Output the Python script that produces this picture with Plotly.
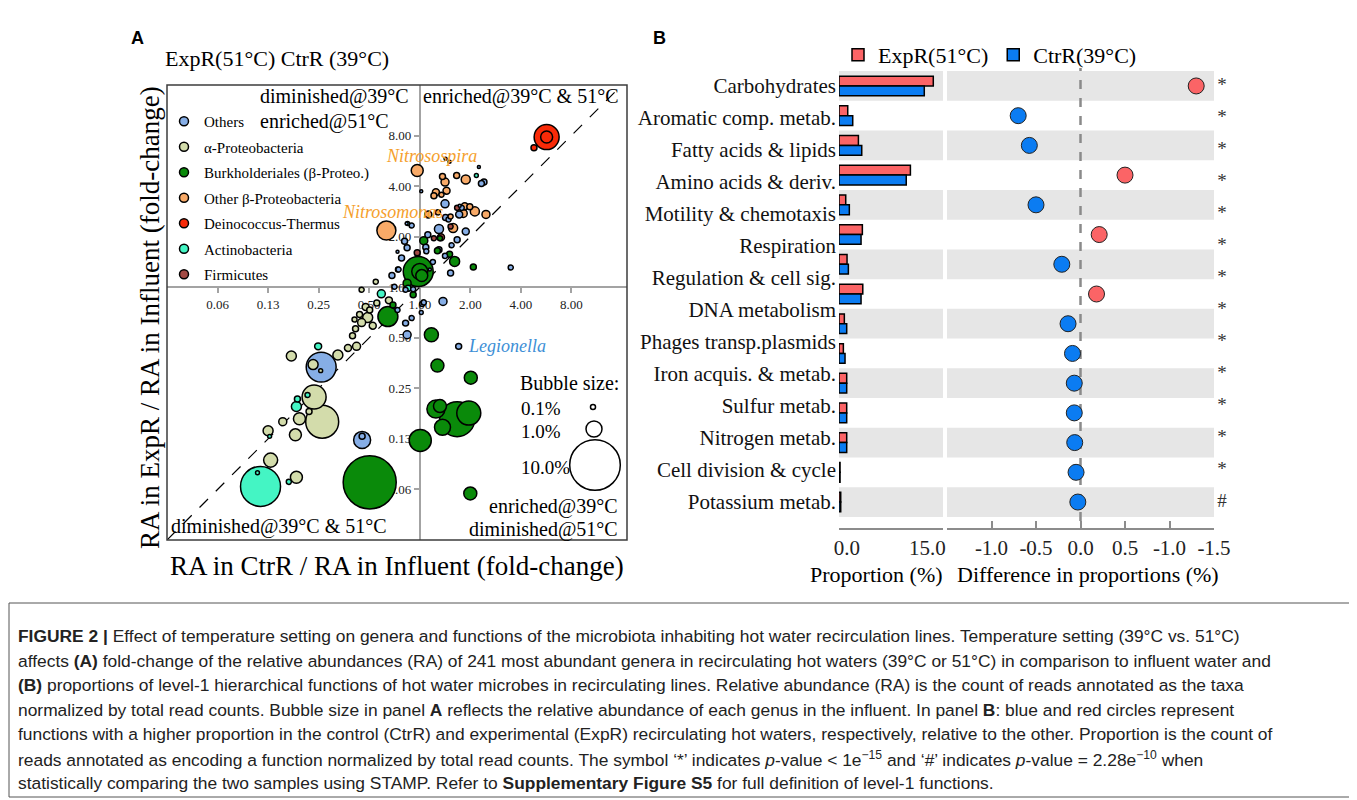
import math
import plotly.graph_objects as go

# The page adds an 8px body margin; the figure is sized to fit the 1357x800 window.
OFF = 8
W, H = 1357 - OFF, 800 - OFF
def fx(p): return (p - OFF) / W
def fy(p): return 1 - (p - OFF) / H

SERIF = "Liberation Serif, 'Times New Roman', Times, serif"
SANS = "Liberation Sans, Arial, Helvetica, sans-serif"

# ---------------- Panel A data (log2 fold-change, influent RA in %) ----------------
group_names = ["Others", "α-Proteobacteria", "Burkholderiales (β-Proteo.)",
               "Other β-Proteobacteria", "Deinococcus-Thermus", "Actinobacteria", "Firmicutes"]
group_colors = ["#86aee6", "#d3dcab", "#0a8a0a", "#f8aa68", "#f82a08", "#44f5c4", "#a34a44"]

others_ctrr = [0.50, 0.78, 0.38, 0.91, 1.27, 0.57, 0.83, 1.80, 0.74, 0.63, 0.38, 0.12, 0.61, 0.16, 0.50, 0.26, 1.22, 0.51,
               0.51, 1.17, 0.03, -0.26, 0.79, 0.59, 0.20, -0.44,
               0.46, 0.05, 0.03, -0.16, -0.28, -0.25, -0.13, -1.95, -1.14, -1.14, -0.30, -0.25, 0.13, -0.43, -0.28, 0.08,
               -0.16, -0.55, -0.36, -0.50, -0.44, -0.42]
others_expr = [1.65, 1.44, 1.15, 1.10, 2.08, 1.34, 1.57, 0.39, 0.94, 0.83, 0.74, 0.79, 0.28, 1.04, 0.62, 0.50, 2.05, 1.38,
               2.54, 2.38, 1.90, 1.26, 1.61, 2.48, 0.35, 0.70,
               -0.28, -0.33, -0.50, -0.61, -0.71, -0.94, -0.04, -1.58, -3.02, -2.95, 0.91, 0.78, 0.71, 0.35, -0.05, -0.30,
               1.22, 0.23, 0.58, 0.01, -0.45, 0.35]
others_ra = [0.25, 0.19, 0.32, 0.19, 0.14, 0.10, 0.10, 0.10, 0.14, 0.10, 0.14, 0.14, 0.14, 0.14, 0.10, 0.10, 0.14, 0.14,
             0.035, 0.035, 0.035, 0.035, 0.035, 0.035, 0.035, 0.035,
             0.25, 0.10, 0.06, 0.10, 0.14, 0.25, 0.10, 3.5, 1.13, 0.14, 0.14, 0.14, 0.10, 0.10, 0.10, 0.10,
             0.10, 0.14, 0.14, 0.10, 0.10, 0.10]

alpha_ctrr = [-1.93, -2.09, -2.38, -2.19, -2.46, -2.71, -3.00, -2.95, -2.44, -2.54, -1.62, -1.42, -1.25, -1.33,
              -2.11, -1.96, -1.15, -1.03, -0.93, -1.19, -1.07, -0.85, -0.61, -1.15, -0.87, -1.27, -0.99, -1.29]
alpha_expr = [-2.66, -2.17, -2.60, -2.46, -2.92, -2.66, -2.84, -3.42, -3.76, -1.36, -1.34, -1.20, -1.17, -0.96,
              -1.53, -1.65, -0.70, -0.60, -0.76, -0.54, -0.39, -0.31, -0.26, -0.05, 0.11, -0.82, -0.45, -0.64]
alpha_ra = [4.25, 2.25, 0.56, 0.14, 0.56, 0.25, 0.39, 0.77, 0.56, 0.39, 0.39, 0.19, 0.25, 0.14,
            0.39, 0.06, 0.25, 0.39, 0.19, 0.14, 0.19, 0.14, 0.19, 0.10, 0.10, 0.14, 0.14, 0.10]

burk_ctrr = [-0.03, 0.00, 0.04, 0.08, 0.35, 0.69, 1.06, 0.59, 0.40, -0.63, 0.23, 0.35, 1.01, 0.32, 0.40, 0.74,
             0.97, 0.45, 0.01, 1.00, -0.99, -0.25, -0.13, -0.53]
burk_expr = [0.31, 0.31, 0.23, 0.92, 0.72, 0.51, 0.40, 0.65, 0.97, -0.58, -0.94, -1.55, -1.79, -2.41, -2.35, -2.61,
             -2.49, -2.77, -3.03, -4.08, -3.86, 0.08, -0.15, -0.35]
burk_ra = [3.5, 1.0, 0.56, 0.25, 0.14, 0.39, 0.14, 0.14, 0.10, 1.56, 0.77, 0.66, 0.66, 1.27, 0.66, 4.8,
           2.25, 1.0, 1.9, 0.66, 11.0, 0.25, 0.14, 0.14]

beta_ctrr = [0.45, 0.50, 0.53, 0.32, 0.73, 0.91, 0.28, 0.17, 0.66, 0.86, 1.09, 1.31, 0.61, 0.36, 0.43, 0.99, 0.89]
beta_expr = [2.19, 2.08, 1.91, 1.88, 2.21, 2.13, 1.81, 1.44, 1.17, 1.46, 1.50, 1.44, 1.40, 1.48, 1.83, 1.59, 1.60]
beta_ra = [0.14, 0.25, 0.19, 0.19, 0.14, 0.32, 0.14, 0.19, 0.32, 0.25, 0.32, 0.25, 0.10, 0.10, 0.10, 0.14, 0.19]

deino_ctrr = [2.51, 2.51, 2.26]
deino_expr = [2.97, 2.97, 2.76]
deino_ra = [2.44, 0.56, 0.14]

actino_ctrr = [1.12, -0.24, -0.76, -0.23, -2.44, -2.42, -2.22, -2.97, -2.59, -2.01, -3.21, -3.15]
actino_expr = [2.21, 1.26, -0.13, -0.02, -2.36, -2.21, -2.13, -2.95, -3.85, -1.17, -3.67, -3.94]
actino_ra = [0.06, 0.06, 0.25, 0.14, 0.39, 0.14, 0.10, 0.06, 0.10, 0.19, 0.06, 6.25]

firm_ctrr = [0.74, 0.61, 0.42, -0.05, 0.28]
firm_expr = [1.57, 1.20, 0.99, 0.68, 0.97]
firm_ra = [0.10, 0.10, 0.19, 0.14, 0.10]

labelled_names = ["Nitrosospira", "Nitrosomonas", "Legionella"]
labelled_group = [3, 3, 0]
labelled_ctrr = [-0.05, -0.66, 0.77]
labelled_expr = [2.31, 1.12, -1.17]
labelled_ra = [0.56, 1.41, 0.14]

x_tick_log2 = [-4, -3, -2, -1, 0, 1, 2, 3]
x_tick_text = ["0.06", "0.13", "0.25", "0.50", "1.00", "2.00", "4.00", "8.00"]
y_tick_log2 = [-4, -3, -2, -1, 0, 1, 2, 3]
y_tick_text = ["0.06", "0.13", "0.25", "0.50", "1.00", "2.00", "4.00", "8.00"]

bubble_legend_pct = [0.1, 1.0, 10.0]
bubble_legend_text = ["0.1%", "1.0%", "10.0%"]

# ---------------- Panel B data ----------------
function_labels = ["Carbohydrates", "Aromatic comp. metab.", "Fatty acids & lipids", "Amino acids & deriv.",
                   "Motility & chemotaxis", "Respiration", "Regulation & cell sig.", "DNA metabolism",
                   "Phages transp.plasmids", "Iron acquis. & metab.", "Sulfur metab.", "Nitrogen metab.",
                   "Cell division & cycle", "Potassium metab."]
significance = ["*", "*", "*", "*", "*", "*", "*", "*", "*", "*", "*", "*", "*", "#"]
prop_expr = [13.6, 1.26, 2.8, 10.3, 0.97, 3.37, 1.16, 3.43, 0.77, 0.63, 1.11, 1.11, 1.11, 0.15, 0.25]
prop_ctrr = [12.3, 1.98, 3.28, 9.7, 1.49, 3.18, 1.35, 3.18, 1.11, 0.87, 1.11, 1.11, 1.11, 0.15, 0.25]
prop_diff = [1.30, -0.70, -0.575, 0.50, -0.50, 0.21, -0.21, 0.18, -0.14, -0.09, -0.07, -0.07, -0.065, -0.05, -0.03]
prop_ticks = [0, 15]
prop_tick_text = ["&nbsp;&nbsp;&nbsp;0.0", "15.0&nbsp;&nbsp;&nbsp;&nbsp;&nbsp;&nbsp;"]
diff_ticks = [-1.0, -0.5, 0.0, 0.5, 1.0, 1.5]
diff_tick_text = ["-1.0", "-0.5", "0.0", "0.5", "-1.0", "-1.5"]

RED = "#fb6466"
BLUE = "#0b7cf2"

# ---------------- Figure ----------------
fig = go.Figure()

AX_LO, Y_HI, X_HI = -5.0, 4.0, 4.1

def diam(pct):
    return 16 * math.sqrt(pct)

# diagonal y = x
fig.add_trace(go.Scatter(x=[AX_LO, Y_HI], y=[AX_LO, Y_HI], mode="lines",
                         line=dict(color="black", width=1.2, dash="12px,11px"),
                         showlegend=False, hoverinfo="skip", xaxis="x", yaxis="y"))

groups_data = [(others_ctrr, others_expr, others_ra), (alpha_ctrr, alpha_expr, alpha_ra),
               (burk_ctrr, burk_expr, burk_ra), (beta_ctrr, beta_expr, beta_ra),
               (deino_ctrr, deino_expr, deino_ra), (actino_ctrr, actino_expr, actino_ra),
               (firm_ctrr, firm_expr, firm_ra)]
pts = []
for g, (cs, es, rs) in enumerate(groups_data):
    for c, e, r in zip(cs, es, rs):
        pts.append((r, c, e, group_colors[g]))
for g, c, e, r in zip(labelled_group, labelled_ctrr, labelled_expr, labelled_ra):
    pts.append((r, c, e, group_colors[g]))
pts.sort(key=lambda t: -t[0])

fig.add_trace(go.Scatter(
    x=[p[1] for p in pts], y=[p[2] for p in pts], mode="markers",
    marker=dict(size=[diam(p[0]) for p in pts], sizemode="diameter",
                color=[p[3] for p in pts], line=dict(color="black", width=1.5), opacity=1),
    showlegend=False, hoverinfo="skip", xaxis="x", yaxis="y"))

for name, col in zip(group_names, group_colors):
    fig.add_trace(go.Scatter(x=[None], y=[None], mode="markers", name=name,
                             marker=dict(size=9, color=col, line=dict(color="black", width=1.5)),
                             legend="legend", legendgroup=name, xaxis="x", yaxis="y"))

# Panel B bars
rows = list(range(len(prop_expr)))
fig.add_trace(go.Bar(y=rows, x=prop_expr, orientation="h", name="ExpR(51°C)",
                     marker=dict(color=RED, line=dict(color="black", width=1.5)),
                     xaxis="x2", yaxis="y2", legend="legend2"))
fig.add_trace(go.Bar(y=rows, x=prop_ctrr, orientation="h", name="CtrR(39°C)",
                     marker=dict(color=BLUE, line=dict(color="black", width=1.5)),
                     xaxis="x2", yaxis="y2", legend="legend2"))

fig.add_trace(go.Scatter(x=prop_diff, y=rows, mode="markers",
                         marker=dict(size=16, color=[RED if d > 0 else BLUE for d in prop_diff],
                                     line=dict(color="#222", width=1)),
                         showlegend=False, xaxis="x3", yaxis="y2"))

fig.add_trace(go.Scatter(x=[0.5] * len(function_labels), y=function_labels, mode="text",
                         text=significance, textfont=dict(family=SERIF, size=19, color="#333"),
                         showlegend=False, xaxis="x4", yaxis="y3"))

# ---------------- Layout ----------------
xa_dom = [fx(167), fx(627)]
ya_dom = [fy(540), fy(85)]
xaxis_pos_y = ya_dom[0] + (ya_dom[1] - ya_dom[0]) * (0 - AX_LO) / (Y_HI - AX_LO)
yaxis_pos_x = xa_dom[0] + (xa_dom[1] - xa_dom[0]) * (0 - AX_LO) / (X_HI - AX_LO)

axis_common_a = dict(showgrid=False, zeroline=False, showline=True, linecolor="#a3a3a3", linewidth=2,
                     ticks="outside", ticklen=5, tickcolor="#a3a3a3", tickwidth=1.5,
                     tickfont=dict(family=SERIF, size=13, color="#222"), layer="below traces",
                     anchor="free")

n_rows = len(prop_expr)
shapes = []
# panel A frame
shapes.append(dict(type="rect", xref="x domain", yref="y domain", x0=0, x1=1, y0=0, y1=1,
                   line=dict(color="#3c3c3c", width=1.5), layer="above"))
# bands
for r in range(0, n_rows, 2):
    for ax in ("x2", "x3"):
        shapes.append(dict(type="rect", xref=f"{ax} domain", yref="y2", x0=0, x1=1, y0=r - 0.5, y1=r + 0.5,
                           fillcolor="#e6e6e6", line=dict(width=0), layer="below"))
shapes.append(dict(type="line", xref="x3", yref="paper", x0=0, x1=0, y0=fy(521), y1=fy(68),
                   line=dict(color="#8a8a8a", width=2.5, dash="dash"), layer="below"))
# caption box
shapes.append(dict(type="rect", xref="paper", yref="paper", x0=fx(9), x1=fx(1352), y0=fy(797), y1=fy(603),
                   line=dict(color="#555", width=1)))
# bubble size legend circles
bubble_leg_cx = [593, 594, 595]
bubble_leg_cy = [407, 429, 465]
for pct, cx, cy in zip(bubble_legend_pct, bubble_leg_cx, bubble_leg_cy):
    rr = diam(pct) / 2
    shapes.append(dict(type="circle", xref="paper", yref="paper", xsizemode="pixel", ysizemode="pixel",
                       xanchor=fx(cx), yanchor=fy(cy), x0=-rr, x1=rr, y0=-rr, y1=rr,
                       line=dict(color="black", width=1.5), fillcolor="rgba(0,0,0,0)"))

ann = []
def txt(x, y, s, size, family=SERIF, xanchor="left", color="black", **kw):
    ann.append(dict(x=fx(x), y=fy(y), xref="paper", yref="paper", text=s, showarrow=False,
                    xanchor=xanchor, yanchor="middle", font=dict(family=family, size=size, color=color), **kw))

txt(129, 38, "<b>A</b>", 18, SANS)
txt(651, 38, "<b>B</b>", 18, SANS)
txt(163, 58, "ExpR(51°C) CtrR (39°C)", 22)
txt(258, 97, "diminished@39°C", 20)
txt(258, 121, "enriched@51°C", 20)
txt(421, 97, "enriched@39°C &amp; 51°C", 20)
txt(169, 526, "diminished@39°C &amp; 51°C", 20)
txt(620, 506, "enriched@39°C", 20, xanchor="right")
txt(620, 529, "diminished@51°C", 20, xanchor="right")
txt(518, 383, "Bubble size:", 20)
for s, cy in zip(bubble_legend_text, [408, 431, 467]):
    txt(519, cy, s, 19)
txt(397, 566, "RA in CtrR / RA in Influent (fold-change)", 27, xanchor="center")
ann.append(dict(x=fx(150), y=fy(318), xref="paper", yref="paper", text="RA in ExpR / RA in Influent (fold-change)",
                showarrow=False, textangle=-90, xanchor="center", yanchor="middle",
                font=dict(family=SERIF, size=27, color="black")))
txt(876, 574, "Proportion (%)", 22, xanchor="center")
txt(1088, 574, "Difference in proportions (%)", 22, xanchor="center")

# genus labels attached to their bubbles
label_colors = ["#f5a02c", "#f5a02c", "#3d8fd6"]
label_shift = [(14, 14, "center"), (6, 19, "center"), (7, 0, "left")]
for name, c, e, col, (sx, sy, xa) in zip(labelled_names, labelled_ctrr, labelled_expr, label_colors, label_shift):
    ann.append(dict(x=c, y=e, xref="x", yref="y", text=f"<i>{name}</i>", showarrow=False,
                    xanchor=xa, yanchor="middle", xshift=sx, yshift=sy,
                    font=dict(family=SERIF, size=18, color=col)))

caption = [
    "<b>FIGURE 2 |</b> Effect of temperature setting on genera and functions of the microbiota inhabiting hot water recirculation lines. Temperature setting (39°C vs. 51°C)",
    "affects <b>(A)</b> fold-change of the relative abundances (RA) of 241 most abundant genera in recirculating hot waters (39°C or 51°C) in comparison to influent water and",
    "<b>(B)</b> proportions of level-1 hierarchical functions of hot water microbes in recirculating lines. Relative abundance (RA) is the count of reads annotated as the taxa",
    "normalized by total read counts. Bubble size in panel <b>A</b> reflects the relative abundance of each genus in the influent. In panel <b>B</b>: blue and red circles represent",
    "functions with a higher proportion in the control (CtrR) and experimental (ExpR) recirculating hot waters, respectively, relative to the other. Proportion is the count of",
    "reads annotated as encoding a function normalized by total read counts. The symbol ‘*’ indicates <i>p</i>-value &lt; 1e<sup>−15</sup> and ‘#’ indicates <i>p</i>-value = 2.28e<sup>−10</sup> when",
    "statistically comparing the two samples using STAMP. Refer to <b>Supplementary Figure S5</b> for full definition of level-1 functions.",
]
for i, line in enumerate(caption):
    txt(16, 636 + 24.5 * i, line, 17.4, SANS, color="#222")

axis_common_b = dict(anchor="free", position=fy(529), ticks="inside", ticklen=7,
                     showline=True, linecolor="#8c8c8c", linewidth=2, tickcolor="#8c8c8c", tickwidth=2,
                     showgrid=False, zeroline=False, tickfont=dict(family=SERIF, size=21, color="#222"))

fig.update_layout(
    width=W, height=H, margin=dict(l=0, r=0, t=0, b=0, autoexpand=False),
    paper_bgcolor="white", plot_bgcolor="rgba(0,0,0,0)",
    barmode="group", bargap=0.34, bargroupgap=0,
    showlegend=True,
    xaxis=dict(domain=xa_dom, range=[AX_LO, X_HI], position=xaxis_pos_y,
               tickvals=x_tick_log2, ticktext=x_tick_text, **axis_common_a),
    yaxis=dict(domain=ya_dom, range=[AX_LO, Y_HI], position=yaxis_pos_x,
               tickvals=y_tick_log2, ticktext=y_tick_text, **axis_common_a),
    xaxis2=dict(domain=[fx(839), fx(943)], range=[0, 15],
                tickvals=prop_ticks, ticktext=prop_tick_text, **axis_common_b),
    xaxis3=dict(domain=[fx(947), fx(1214)], range=[-1.5, 1.5],
                tickvals=diff_ticks, ticktext=diff_tick_text,
                minor=dict(tickvals=[-1.5], ticks="inside", ticklen=7, tickcolor="#8c8c8c", tickwidth=2),
                **axis_common_b),
    yaxis2=dict(domain=[fy(516.9), fy(71.1)], range=[n_rows - 0.5, -0.5], visible=False, anchor="x2"),
    xaxis4=dict(domain=[fx(1213), fx(1231)], range=[0, 1], visible=False, anchor="y3"),
    yaxis3=dict(domain=[fy(518), fy(70)], type="category", categoryorder="array", categoryarray=function_labels,
                range=[len(function_labels) - 0.5, -0.5], anchor="free", position=fx(839), side="left",
                showline=False, ticks="", showgrid=False, zeroline=False, ticklabelstandoff=3,
                tickfont=dict(family=SERIF, size=21, color="#111")),
    legend=dict(x=fx(164), y=fy(105), xanchor="left", yanchor="top", bgcolor="rgba(0,0,0,0)",
                font=dict(family=SERIF, size=15, color="black"), tracegroupgap=3, traceorder="grouped"),
    legend2=dict(orientation="h", x=fx(838), y=fy(34), xanchor="left", yanchor="top", bgcolor="rgba(0,0,0,0)",
                 font=dict(family=SERIF, size=22, color="black"), traceorder="normal"),
    shapes=shapes, annotations=ann,
)

fig.write_html("out.html")
